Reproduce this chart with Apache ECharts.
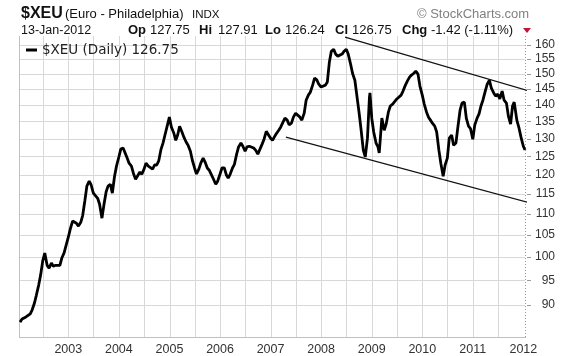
<!DOCTYPE html>
<html><head><meta charset="utf-8">
<script src="https://cdn.jsdelivr.net/npm/echarts@6/dist/echarts.min.js"></script>
<style>html,body{margin:0;padding:0;background:#fff}#c{width:576px;height:356px}</style>
</head><body><div id="c"></div>
<script>
const symbolName = '$XEU';
const seriesLabel = '$XEU (Daily) 126.75';
const dates = [
'2002-01-17','2002-02-01','2002-02-15','2002-03-01','2002-03-15','2002-04-01','2002-04-15','2002-05-01','2002-05-15','2002-06-01','2002-06-15','2002-07-01','2002-07-15','2002-08-01','2002-08-15','2002-09-01','2002-09-15','2002-10-01','2002-10-15','2002-11-01','2002-11-15','2002-12-01','2002-12-15',
'2003-01-01','2003-01-15','2003-02-01','2003-02-15','2003-03-01','2003-03-15','2003-04-01','2003-04-15','2003-05-01','2003-05-15','2003-06-01','2003-06-15','2003-07-01','2003-07-15','2003-08-01','2003-08-15','2003-09-01','2003-09-15','2003-10-01','2003-10-15','2003-11-01','2003-11-15','2003-12-01','2003-12-15',
'2004-01-01','2004-01-15','2004-02-01','2004-02-15','2004-03-01','2004-03-15','2004-04-01','2004-04-15','2004-05-01','2004-05-15','2004-06-01','2004-06-15','2004-07-01','2004-07-15','2004-08-01','2004-08-15','2004-09-01','2004-09-15','2004-10-01','2004-10-15','2004-11-01','2004-11-15','2004-12-01','2004-12-15','2004-12-31',
'2005-01-15','2005-02-01','2005-02-15','2005-03-01','2005-03-15','2005-04-01','2005-04-15','2005-05-01','2005-05-15','2005-06-01','2005-06-15','2005-07-01','2005-07-15','2005-08-01','2005-08-15','2005-09-01','2005-09-15','2005-10-01','2005-10-15','2005-11-01','2005-11-15','2005-12-01','2005-12-15',
'2006-01-01','2006-01-15','2006-02-01','2006-02-15','2006-03-01','2006-03-15','2006-04-01','2006-04-15','2006-05-01','2006-05-15','2006-06-01','2006-06-15','2006-07-01','2006-07-15','2006-08-01','2006-08-15','2006-09-01','2006-09-15','2006-10-01','2006-10-15','2006-11-01','2006-11-15','2006-12-01','2006-12-15',
'2007-01-01','2007-01-15','2007-02-01','2007-02-15','2007-03-01','2007-03-15','2007-04-01','2007-04-15','2007-05-01','2007-05-15','2007-06-01','2007-06-15','2007-07-01','2007-07-15','2007-08-01','2007-08-15','2007-09-01','2007-09-15','2007-10-01','2007-10-15','2007-11-01','2007-11-15','2007-12-01','2007-12-15',
'2008-01-01','2008-01-15','2008-02-01','2008-02-15','2008-03-01','2008-03-15','2008-04-01','2008-04-15','2008-05-01','2008-05-15','2008-06-01','2008-06-15','2008-07-01','2008-07-15','2008-08-01','2008-08-15','2008-09-01','2008-09-15','2008-10-01','2008-10-15','2008-11-01','2008-11-15','2008-12-01','2008-12-15','2008-12-19',
'2009-01-01','2009-01-15','2009-02-01','2009-02-15','2009-02-24','2009-03-15','2009-04-01','2009-04-15','2009-05-01','2009-05-15','2009-06-01','2009-06-15','2009-07-01','2009-07-15','2009-08-01','2009-08-15','2009-09-01','2009-09-15','2009-10-01','2009-10-15','2009-11-01','2009-11-15','2009-12-01','2009-12-15',
'2010-01-01','2010-01-15','2010-02-01','2010-02-15','2010-03-01','2010-03-15','2010-04-01','2010-04-15','2010-05-01','2010-05-15','2010-06-01','2010-06-07','2010-06-15','2010-07-01','2010-07-15','2010-08-01','2010-08-15','2010-09-01','2010-09-15','2010-10-01','2010-10-15','2010-11-01','2010-11-15','2010-12-01','2010-12-15',
'2011-01-01','2011-01-15','2011-02-01','2011-02-15','2011-03-01','2011-03-15','2011-04-01','2011-04-15','2011-05-01','2011-05-15','2011-06-01','2011-06-15','2011-07-01','2011-07-15','2011-08-01','2011-08-15','2011-09-01','2011-09-15','2011-10-01','2011-10-15','2011-10-27','2011-11-15','2011-12-01','2011-12-15',
'2012-01-01','2012-01-13'
];
const closes = [
86.6,87.2,87.4,87.6,87.4,88.2,89.0,90.3,91.9,94.0,96.1,99.3,100.9,98.2,97.6,98.7,98.0,98.2,97.8,98.2,99.8,100.9,102.5,
104.5,106.4,108.3,108.5,107.8,107.1,108.0,109.7,113.4,117.0,118.3,117.3,115.2,115.0,113.9,112.4,109.0,112.2,115.5,117.0,117.5,115.2,119.6,122.3,
124.8,127.0,127.3,127.8,124.5,123.1,122.3,120.4,118.8,119.0,120.7,120.1,121.5,123.1,122.3,122.0,121.5,122.6,122.6,123.7,127.0,128.7,131.3,133.6,136.3,
133.3,131.6,129.5,131.0,133.6,131.9,130.4,129.0,128.1,126.4,123.9,121.8,120.2,121.5,123.1,124.5,123.4,121.8,121.2,119.9,118.8,117.5,118.3,
120.2,121.8,121.8,120.0,119.1,120.1,121.8,122.8,125.6,127.6,128.7,127.8,126.4,127.6,127.8,127.6,127.3,126.7,125.6,125.8,128.4,129.8,132.1,132.1,
130.1,129.5,130.7,131.6,132.4,133.3,134.8,136.0,135.4,134.0,134.5,136.3,137.5,138.1,136.3,135.4,137.5,141.5,143.1,144.0,146.3,148.6,148.0,146.6,
145.7,145.7,146.3,147.3,154.0,157.7,158.4,156.7,156.0,155.7,156.7,157.7,158.4,156.7,153.3,150.2,147.9,143.1,137.8,132.9,126.7,124.8,130.1,142.2,143.8,
136.0,131.9,128.7,127.6,125.9,136.0,132.4,134.2,137.8,139.7,140.3,140.6,141.9,142.5,143.1,144.4,146.3,147.6,148.9,149.6,150.2,150.9,149.9,146.0,
143.1,140.3,137.8,136.3,135.4,134.5,133.6,131.9,126.7,123.1,119.6,119.4,122.6,124.5,130.1,131.0,128.1,128.7,133.3,138.4,140.6,140.9,136.0,133.6,132.9,
129.8,133.9,136.0,137.3,139.7,141.5,144.4,146.6,147.9,145.3,143.8,142.8,143.4,141.9,144.4,141.5,140.6,136.6,134.2,139.7,140.9,135.4,133.0,130.4,
127.8,126.75
];
const yTicks = [90,95,100,105,110,115,120,125,130,135,140,145,150,155,160];
const yearTicks = ['2003-01-01','2004-01-01','2005-01-01','2006-01-01','2007-01-01','2008-01-01','2009-01-01','2010-01-01','2011-01-01','2012-01-01'];
const gridDates = ['2002-07-01','2003-01-01','2003-07-01','2004-01-01','2004-07-01','2005-01-01','2005-07-01','2006-01-01','2006-07-01','2007-01-01','2007-07-01','2008-01-01','2008-07-01','2009-01-01','2009-07-01','2010-01-01','2010-07-01','2011-01-01','2011-07-01'];
const upperTrendDates = ['2008-06-22','2012-11-12'];
const upperTrendValues = [162.7,140.9];
const lowerTrendDates = ['2007-04-22','2012-02-25'];
const lowerTrendValues = [130.4,112.7];
const axisStart = '2002-01-17', axisEnd = '2012-01-13';
const yMin = 83.8, yMax = 163.1;
const headerDate = '13-Jan-2012';
const quote = {Op:'127.75', Hi:'127.91', Lo:'126.24', Cl:'126.75', Chg:'-1.42 (-1.11%)'};

function ts(s){const p=s.split('-').map(Number);return Date.UTC(p[0],p[1]-1,p[2]);}
const mainData = dates.map((d,i)=>[ts(d), Math.log(closes[i])]);
const upData = upperTrendDates.map((d,i)=>[ts(d), Math.log(upperTrendValues[i])]);
const loData = lowerTrendDates.map((d,i)=>[ts(d), Math.log(lowerTrendValues[i])]);
const logTicks = yTicks.map(v=>Math.log(v));
const lnMin = Math.log(yMin), lnMax = Math.log(yMax);
const tMin = ts(axisStart), tMax = ts(axisEnd);

const F = '"Liberation Sans", Arial, sans-serif';
const chart = echarts.init(document.getElementById('c'), null, {renderer:'canvas'});
const txt = (x,y,text,font,fill)=>({type:'text', x:x, y:y, z:10, silent:true, style:{text:text, font:font, fill:fill||'#111', align:'left', verticalAlign:'middle'}});
const headerGraphics = [
  txt(21,13.5,symbolName,'bold 16px '+F),
  txt(65,14,'(Euro - Philadelphia)','13px '+F),
  txt(192,14.5,'INDX','11.5px '+F),
  txt(417,14,'\u00A9 StockCharts.com','13px '+F,'#808080'),
  txt(21,30.5,headerDate,'12.5px '+F),
  txt(128,30.5,'Op','bold 13px '+F), txt(150,30.5,quote.Op,'13px '+F),
  txt(199,30.5,'Hi','bold 13px '+F), txt(218,30.5,quote.Hi,'13px '+F),
  txt(265,30.5,'Lo','bold 13px '+F), txt(285,30.5,quote.Lo,'13px '+F),
  txt(335,30.5,'Cl','bold 13px '+F), txt(352,30.5,quote.Cl,'13px '+F),
  txt(402,30.5,'Chg','bold 13px '+F), txt(431,30.5,quote.Chg,'13px '+F),
  {type:'polygon', z:10, silent:true, shape:{points:[[523,28],[531,28],[527,33]]}, style:{fill:'#c0143c'}}
];
chart.setOption({
  animation:false,
  backgroundColor:'#fff',
  grid:{left:20, right:51, top:36, bottom:19, containLabel:false},
  legend:{
    data:[seriesLabel], left:21, top:38, itemWidth:11, itemHeight:3, icon:'rect', selectedMode:false,
    textStyle:{fontFamily:'"DejaVu Sans", Verdana, sans-serif', fontSize:13.5, color:'#222'}
  },
  xAxis:{
    type:'value', min:tMin, max:tMax,
    axisLine:{show:false}, axisTick:{show:false},
    axisLabel:{customValues:yearTicks.map(ts), formatter:(v)=>String(new Date(v).getUTCFullYear()), margin:6, fontFamily:F, fontSize:12.5, color:'#333', showMinLabel:true, showMaxLabel:true},
    splitLine:{show:false}
  },
  yAxis:{
    type:'value', position:'right', min:lnMin, max:lnMax,
    axisLine:{show:false}, axisTick:{show:false},
    axisLabel:{customValues:logTicks, formatter:(v)=>String(Math.round(Math.exp(v))), align:'right', margin:30, fontFamily:F, fontSize:12, color:'#333'},
    splitLine:{show:false}
  },
  series:[
    {name:seriesLabel, type:'line', data:mainData, showSymbol:false, symbol:'none', lineStyle:{color:'#000', width:2.8}, itemStyle:{color:'#000'}, z:3},
    {name:'upper', type:'line', data:upData, symbol:'none', clip:false, silent:true, lineStyle:{color:'#111', width:1.2}, z:4},
    {name:'lower', type:'line', data:loData, symbol:'none', clip:false, silent:true, lineStyle:{color:'#111', width:1.2}, z:4}
  ],
  graphic: headerGraphics
});

// grid lines, frame and ticks placed through the chart's own axis scales
const px = (t,v)=>chart.convertToPixel({xAxisIndex:0, yAxisIndex:0},[t,v]);
const bl = px(tMin, lnMin), tr = px(tMax, lnMax);
const ok = bl && tr && isFinite(bl[0]) && isFinite(bl[1]) && isFinite(tr[0]) && isFinite(tr[1]);
if (ok) {
  const L = Math.round(bl[0]), B = Math.round(bl[1]), R = Math.round(tr[0]), T = Math.round(tr[1]);
  const rect = (x,y,w,h,fill)=>({type:'rect', z:1, silent:true, shape:{x:x, y:y, width:w, height:h}, style:{fill:fill}});
  const gridGraphics = [];
  gridDates.forEach(d=>{const x=Math.round(px(ts(d), lnMin)[0]); gridGraphics.push(rect(x, T, 1, B-T, '#d8d8d8'));});
  logTicks.forEach(v=>{const y=Math.round(px(tMin, v)[1]); gridGraphics.push(rect(L, y, R-L, 1, '#d8d8d8')); gridGraphics.push(rect(R+2, y, 4, 1, '#999'));});
  gridGraphics.push(rect(L-1, T, 1, B-T+1, '#c0c0c0'));
  gridGraphics.push(rect(L-1, B, R-L+2, 1, '#c0c0c0'));
  for (let y=T; y<B; y+=3) gridGraphics.push(rect(R, y, 1, 1, '#999'));
  chart.setOption({graphic: headerGraphics.concat(gridGraphics)});
}
</script></body></html>
